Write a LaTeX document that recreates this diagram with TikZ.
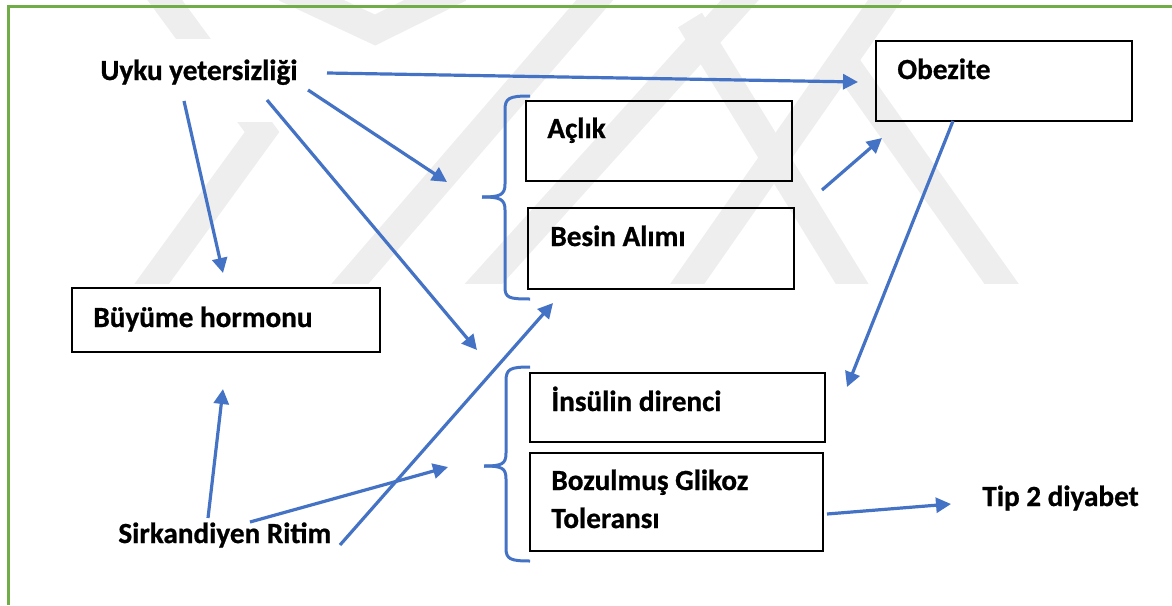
\documentclass[tikz,border=0pt]{standalone}
\usepackage{fontspec}
\setmainfont{Carlito}[BoldFeatures={FakeBold=0.8}]
\usetikzlibrary{arrows.meta,calc}
\definecolor{arrowblue}{HTML}{4472C4}
\definecolor{framegreen}{HTML}{70AD47}
\definecolor{wmgray}{HTML}{EEEEEE}
\begin{document}
\begin{tikzpicture}[x=0.5pt,y=-0.5pt,
  wmband/.style={draw=wmgray,line width=14pt,line join=miter},
  box/.style={draw=black,line width=1pt,anchor=north west,inner sep=0,outer sep=0},
  txt/.style={anchor=base west,inner sep=0,font=\bfseries\fontsize{14.6}{19.5}\selectfont},
  arr/.style={draw=arrowblue,line width=1.6pt,-{Triangle[length=7.5pt,width=7.5pt]}},
  bracepath/.style={draw=arrowblue,line width=1.5pt}]
\useasboundingbox (0,0) rectangle (1172,605);
% watermark
\begin{scope}
\clip (0,0) rectangle (1172,283);
\draw[wmband] (150,-20) -- (262,132) -- (140,300);
\draw[wmband] (285,-12) -- (375,30) -- (460,-12);
\draw[wmband] (612,-20) -- (336,300);
\draw[wmband] (758,-20) -- (469,300);
\draw[wmband] (899,-20) -- (676,300);
\draw[wmband] (843,60) -- (1013,300);
\draw[wmband] (690,20) -- (862,300);
\end{scope}
% frame
\draw[framegreen,line width=1.5pt] (8,605) -- (8,6) -- (1172,6);
% white background of the title text
\fill[white] (85,39) rectangle (341,122);
% boxes
\node[box,minimum width=128pt,minimum height=40pt] (obez) at (876,41) {};
\node[box,minimum width=133pt,minimum height=40pt] (acl) at (526,101) {};
\node[box,minimum width=133pt,minimum height=40.5pt] (besin) at (528,208) {};
\node[box,minimum width=147.5pt,minimum height=34.5pt] (insul) at (530,373) {};
\node[box,minimum width=146.5pt,minimum height=49pt] (bozul) at (530,453) {};
\node[box,minimum width=154pt,minimum height=32pt] (buyume) at (72,288) {};
% texts
\node[txt] (tuyku) at (100,80) {Uyku yetersizliği};
\node[txt] (tobez) at (897,79) {Obezite};
\node[txt] (tacl) at (547,138) {Açlık};
\node[txt] (tbesin) at (550,246) {Besin Alımı};
\node[txt] (tinsul) at (551,411) {İnsülin direnci};
\node[txt] (tbozul1) at (551,490) {Bozulmuş Glikoz};
\node[txt] (tbozul2) at (551,528) {Toleransı};
\node[txt] (tbuyume) at (93,327) {Büyüme hormonu};
\node[txt] (tsirk) at (118,543) {Sirkandiyen Ritim};
\node[txt] (ttip) at (982,506) {Tip 2 diyabet};
% braces
\draw[bracepath] (530,96) .. controls (509,96) and (505,98) .. (505,110) -- (505,184)
  .. controls (505,195) and (500,197) .. (482,197);
\draw[bracepath] (482,197) .. controls (500,197) and (505,199) .. (505,210) -- (505,287)
  .. controls (505,298) and (509,299) .. (530,299);
\draw[bracepath] (530,367) .. controls (510,367) and (506,369) .. (506,381) -- (506,453)
  .. controls (506,464) and (502,466) .. (484,466);
\draw[bracepath] (484,466) .. controls (502,466) and (506,468) .. (506,479) -- (506,548)
  .. controls (506,559) and (510,561) .. (530,561);
% connector end points
\coordinate (s1) at (327,73);  \coordinate (e1) at (858,82);
\coordinate (s2) at (308,90);  \coordinate (e2) at (447,182);
\coordinate (s3) at (267,100); \coordinate (e3) at (477,350);
\coordinate (s4) at (184,101); \coordinate (e4) at (223,273);
\coordinate (s5) at (208,518); \coordinate (e5) at (223,389);
\coordinate (s6) at (250,522); \coordinate (e6) at (448,467);
\coordinate (s7) at (340,545); \coordinate (e7) at (553,303);
\coordinate (s8) at (822,190); \coordinate (e8) at (882,138);
\coordinate (s9) at (953,121); \coordinate (e9) at (847,387);
\coordinate (s10) at (827,514); \coordinate (e10) at (951,504);
% connectors
\draw[arr] (s1) -- (e1);
\draw[arr] (s2) -- (e2);
\draw[arr] (s3) -- (e3);
\draw[arr] (s4) -- (e4);
\draw[arr] (s5) -- (e5);
\draw[arr] (s6) -- (e6);
\draw[arr] (s7) -- (e7);
\draw[arr] (s8) -- (e8);
\draw[arr] (s9) -- (e9);
\draw[arr] (s10) -- (e10);
\end{tikzpicture}
\end{document}
